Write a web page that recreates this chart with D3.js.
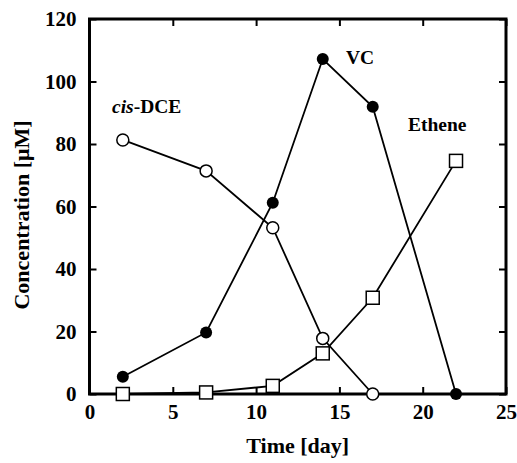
<!DOCTYPE html>
<html>
<head>
<meta charset="utf-8">
<script src="https://cdn.jsdelivr.net/npm/d3@7"></script>
<style>
	body { margin: 0; background: #fff; }
	svg { display: block; font-family: "Liberation Serif", "Times New Roman", serif; font-weight: bold; }
</style>
</head>
<body>
<div id="chart"></div>
<script>
const days = [2, 7, 11, 14, 17, 22];
const cisDCE = [81.3, 71.4, 53.2, 17.8, 0];
const vc = [5.5, 19.7, 61.2, 107.2, 91.9, 0];
const ethene = [0, 0.5, 2.6, 13.0, 30.8, 74.6];
const xTicks = [0, 5, 10, 15, 20, 25];
const yTicks = [0, 20, 40, 60, 80, 100, 120];

const width = 517, height = 463;
const mLeft = 89.5, mRight = 506, mTop = 19, mBottom = 394;

let svg = d3.select("#chart")
			.append("svg")
			.attr("width", width)
			.attr("height", height);

const xScale = d3.scaleLinear().domain([0, 25]).range([mLeft, mRight]);
const yScale = d3.scaleLinear().domain([0, 120]).range([mBottom, mTop]);

// axes, ticks inward on all four sides
svg.append("g")
	.attr("transform", `translate(0, ${mBottom})`)
	.call(d3.axisBottom(xScale).tickValues(xTicks).tickSizeInner(-7).tickSizeOuter(0).tickPadding(10))
	.call(g => g.select(".domain").remove())
	.selectAll("text").style("font-size", "21px");

svg.append("g")
	.attr("transform", `translate(0, ${mTop})`)
	.call(d3.axisTop(xScale).tickValues(xTicks).tickSizeInner(-7).tickSizeOuter(0).tickFormat(""))
	.call(g => g.select(".domain").remove());

svg.append("g")
	.attr("transform", `translate(${mLeft}, 0)`)
	.call(d3.axisLeft(yScale).tickValues(yTicks).tickSizeInner(-7).tickSizeOuter(0).tickPadding(13))
	.call(g => g.select(".domain").remove())
	.selectAll("text").style("font-size", "21px");

svg.append("g")
	.attr("transform", `translate(${mRight}, 0)`)
	.call(d3.axisRight(yScale).tickValues(yTicks).tickSizeInner(-7).tickSizeOuter(0).tickFormat(""))
	.call(g => g.select(".domain").remove());

svg.selectAll(".tick line").attr("stroke", "#000").attr("stroke-width", 2);
svg.selectAll(".tick text").attr("fill", "#000").style("font-family", "Liberation Serif, serif").style("font-weight", "bold");

svg.append("rect")
	.attr("x", mLeft)
	.attr("y", mTop)
	.attr("width", mRight - mLeft)
	.attr("height", mBottom - mTop)
	.attr("fill", "none")
	.attr("stroke", "#000")
	.attr("stroke-width", 3);

const line = d3.line()
				.x(d => xScale(d[0]))
				.y(d => yScale(d[1]));

function series(vals) {
	return vals.map((v, i) => [days[i], v]);
}

const cisPts = series(cisDCE);
const vcPts = series(vc);
const ethPts = series(ethene);

[ethPts, cisPts, vcPts].forEach(pts => {
	svg.append("path")
		.attr("d", line(pts))
		.attr("fill", "none")
		.attr("stroke", "#000")
		.attr("stroke-width", 1.8);
});

svg.selectAll(".eth")
	.data(ethPts)
	.enter()
	.append("rect")
	.attr("x", d => xScale(d[0]) - 6.5)
	.attr("y", d => yScale(d[1]) - 6.5)
	.attr("width", 13)
	.attr("height", 13)
	.attr("fill", "#fff")
	.attr("stroke", "#000")
	.attr("stroke-width", 1.5);

svg.selectAll(".cis")
	.data(cisPts)
	.enter()
	.append("circle")
	.attr("cx", d => xScale(d[0]))
	.attr("cy", d => yScale(d[1]))
	.attr("r", 6)
	.attr("fill", "#fff")
	.attr("stroke", "#000")
	.attr("stroke-width", 1.5);

svg.selectAll(".vc")
	.data(vcPts)
	.enter()
	.append("circle")
	.attr("cx", d => xScale(d[0]))
	.attr("cy", d => yScale(d[1]))
	.attr("r", 6)
	.attr("fill", "#000");

// series labels
let cisLabel = svg.append("text")
	.attr("x", 112)
	.attr("y", 113)
	.style("font-size", "19.5px");
cisLabel.append("tspan").style("font-style", "italic").text("cis");
cisLabel.append("tspan").text("-DCE");

svg.append("text")
	.attr("x", 346)
	.attr("y", 64)
	.style("font-size", "19.5px")
	.text("VC");

svg.append("text")
	.attr("x", 408)
	.attr("y", 131)
	.style("font-size", "19.5px")
	.text("Ethene");

// axis titles
svg.append("text")
	.attr("x", (mLeft + mRight) / 2)
	.attr("y", 453)
	.attr("text-anchor", "middle")
	.style("font-size", "22px")
	.text("Time [day]");

svg.append("text")
	.attr("transform", "translate(29, 215) rotate(-90)")
	.attr("text-anchor", "middle")
	.style("font-size", "22px")
	.text("Concentration [μM]");
</script>
</body>
</html>
